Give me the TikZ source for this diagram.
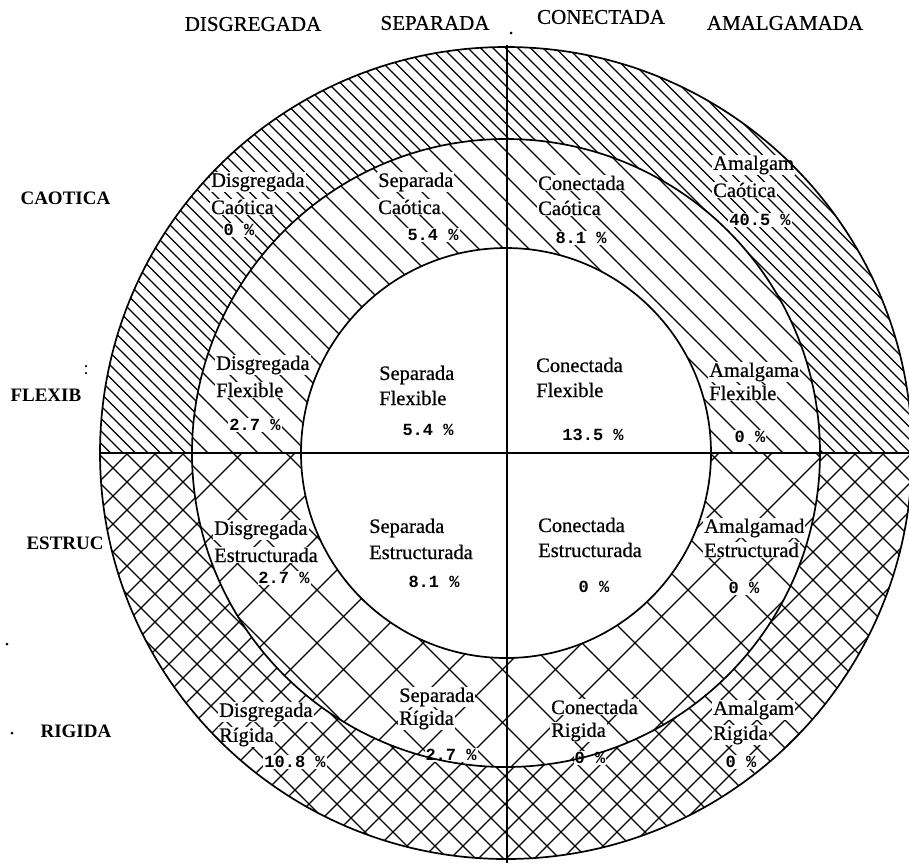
\documentclass[tikz,border=0pt]{standalone}
\usepackage{fontspec}
\setmainfont{Liberation Serif}
\newfontfamily\labfam[FakeBold=0.6]{Liberation Serif}
\newfontfamily\monofam{Liberation Mono}
\tikzset{
  ring/.style={line width=1.7pt},
  axisline/.style={line width=2.6pt},
  hatchline/.style={line width=1.35pt},
  lab/.style={font=\labfam\fontsize{20.5}{24}\selectfont, fill=white, inner sep=1pt, anchor=west},
  pct/.style={font=\monofam\bfseries\fontsize{17}{20}\selectfont, fill=white, inner sep=1pt},
  colhead/.style={font=\labfam\fontsize{21}{24}\selectfont},
  rowhead/.style={font=\bfseries\fontsize{19}{22}\selectfont, anchor=west},
  speck/.style={fill=black, inner sep=0pt, minimum size=3pt, circle}
}
\newcommand\celltxt[9]{%
  \node[lab] (#1a) at (#2,#3) {#5};
  \node[lab] (#1b) at (#2,#4) {#6};
  \node[pct] (#1c) at (#7,#8) {#9};}
\begin{document}
\begin{tikzpicture}[x=1pt,y=-1pt]
\useasboundingbox (0,0) rectangle (909,863);
\clip (0,0) rectangle (909,863);
\def\Ro{406pt}\def\Rm{314pt}\def\Ri{205pt}
\coordinate (O) at (506,453);
% outer ring, upper half: dense diagonal hatching
\begin{scope}
  \clip (O) circle[radius=\Ro];
  \clip (0,0) rectangle (909,453);
  \foreach \c in {-880,-867.5,...,910} \draw[hatchline] (\c,0) -- (\c+863,863);
\end{scope}
% outer ring, lower half: dense cross hatching
\begin{scope}
  \clip (O) circle[radius=\Ro];
  \clip (0,453) rectangle (909,863);
  \foreach \c in {-887,-859,...,910} \draw[hatchline] (\c,0) -- (\c+863,863);
  \foreach \c in {21,49,...,1790} \draw[hatchline] (\c,0) -- (\c-863,863);
\end{scope}
\fill[white] (O) circle[radius=\Rm];
% middle ring, upper half: sparse diagonal hatching
\begin{scope}
  \clip (O) circle[radius=\Rm];
  \clip (0,0) rectangle (909,453);
  \foreach \c in {-870,-845,...,910} \draw[hatchline] (\c,0) -- (\c+863,863);
\end{scope}
% middle ring, lower half: sparse cross hatching
\begin{scope}
  \clip (O) circle[radius=\Rm];
  \clip (0,453) rectangle (909,863);
  \foreach \c in {-909,-856,...,910} \draw[hatchline] (\c,0) -- (\c+863,863);
  \foreach \c in {6,59,...,1790} \draw[hatchline] (\c,0) -- (\c-863,863);
\end{scope}
\fill[white] (O) circle[radius=\Ri];

% cell labels
\celltxt{dc}{210}{182}{207}{Disgregada}{Caótica}{239}{230}{0 \%}
\celltxt{sc}{377}{182}{207}{Separada}{Caótica}{433}{235}{5.4 \%}
\celltxt{cc}{537}{183}{208}{Conectada}{Caótica}{581}{238}{8.1 \%}
\celltxt{ac}{712}{165}{190}{Amalgam}{Caótica}{760}{220}{40.5 \%}
\celltxt{df}{215}{365}{390}{Disgregada}{Flexible}{255}{425}{2.7 \%}
\celltxt{sf}{378}{375}{398}{Separada}{Flexible}{428}{430}{5.4 \%}
\celltxt{cf}{535}{365}{390}{Conectada}{Flexible}{593}{435}{13.5 \%}
\celltxt{af}{708}{372}{393}{Amalgama}{Flexible}{750}{437}{0 \%}
\celltxt{de}{213}{530}{555}{Disgregada}{Estructurada}{284}{578}{2.7 \%}
\celltxt{se}{368}{528}{552}{Separada}{Estructurada}{434}{582}{8.1 \%}
\celltxt{ce}{537}{525}{550}{Conectada}{Estructurada}{594}{587}{0 \%}
\celltxt{ae}{703}{528}{550}{Amalgamad}{Estructurad}{744}{588}{0 \%}
\celltxt{dr}{218}{712}{737}{Disgregada}{Rígida}{295}{762}{10.8 \%}
\celltxt{sr}{398}{697}{720}{Separada}{Rígida}{451}{755}{2.7 \%}
\celltxt{cr}{550}{707}{732}{Conectada}{Rigida}{590}{758}{0 \%}
\celltxt{ar}{712}{710}{735}{Amalgam}{Rigida}{741}{762}{0 \%}

% circles and axes
\draw[ring] (O) circle[radius=\Ro];
\draw[ring] (O) circle[radius=\Rm];
\draw[ring] (O) circle[radius=\Ri];
\coordinate (vtop) at (507,45);
\coordinate (vbot) at (507,863);
\coordinate (hl) at (99,453);
\coordinate (hr) at (909,453);
\draw[axisline] (vtop) -- (vbot);
\draw[axisline] (hl) -- (hr);

% column headings
\node[colhead] (hd1) at (253,24) {DISGREGADA};
\node[colhead] (hd2) at (435,23) {SEPARADA};
\node[colhead] (hd3) at (601,17) {CONECTADA};
\node[colhead] (hd4) at (785,23) {AMALGAMADA};
% row headings
\node[rowhead] (rw1) at (17,198) {CAOTICA};
\node[rowhead] (rw2) at (7,395) {FLEXIB};
\node[rowhead] (rw3) at (23,543) {ESTRUC};
\node[rowhead] (rw4) at (37,731) {RIGIDA};
% stray marks of the original
\node[speck] (sp1) at (511,33) {};
\node[speck, minimum size=2.5pt] (sp2) at (86,366) {};
\node[speck, minimum size=2.5pt] (sp3) at (86,373) {};
\node[speck] (sp4) at (7,644) {};
\node[speck] (sp5) at (12,733) {};
\end{tikzpicture}
\end{document}
